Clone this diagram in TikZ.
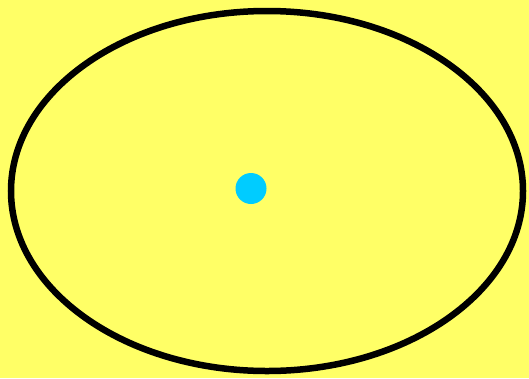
\documentclass[tikz,border=0pt]{standalone}
\usepackage{tikz}
\definecolor{softyellow}{RGB}{255,255,102}
\definecolor{dotcyan}{RGB}{0,204,255}

\begin{document}
\begin{tikzpicture}[
  x=1pt,y=-1pt,
  orbit/.style={draw=black,line width=6.5pt},
  focus/.style={circle,fill=dotcyan,inner sep=0pt,minimum size=31pt}
]
\fill[softyellow] (0,0) rectangle (529,378);
\useasboundingbox (0,0) rectangle (529,378);
\coordinate (centre) at (267,191);
\draw[orbit] (centre) ellipse [x radius=256,y radius=180];
\node[focus] (dot) at (251,188.5) {};
\end{tikzpicture}
\end{document}
